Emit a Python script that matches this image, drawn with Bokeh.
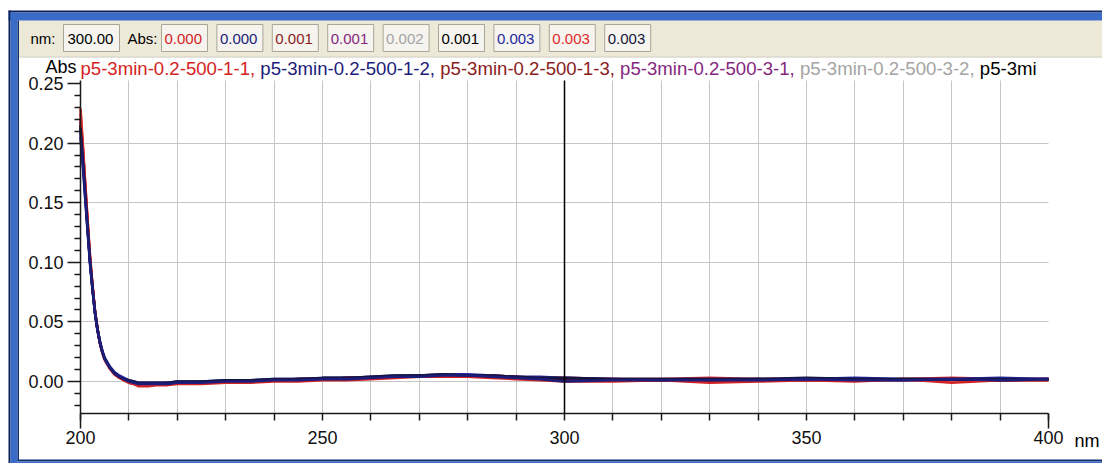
from bokeh.plotting import figure
from bokeh.models import Range1d, FixedTicker, PrintfTickFormatter, Label, BoxAnnotation
from bokeh.embed import file_html
from bokeh.resources import INLINE

# ---------------- data ----------------
wavelength = [200, 200.5, 201, 201.5, 202, 202.5, 203, 203.5, 204, 204.5,
              205, 206, 207, 208, 209, 210, 211, 212,
              214, 216, 218, 220,
              225, 230, 235, 240, 245, 250, 255, 260, 265, 270, 275, 280, 285, 290, 295, 300,
              310, 320, 330, 340, 350, 360, 370, 380, 390, 400]

s1 = [0.229, 0.198, 0.165, 0.133, 0.103, 0.080, 0.059, 0.044, 0.032, 0.024, 0.018, 0.011, 0.006, 0.003, 0.001, -0.001, -0.002, -0.004,
      -0.004, -0.003, -0.003, -0.002, -0.002, -0.001, -0.001, 0.000, 0.000, 0.001, 0.001, 0.002, 0.003, 0.004, 0.004, 0.004, 0.003, 0.002, 0.001, 0.000,
      0.000, 0.001, -0.001, 0.000, 0.001, 0.000, 0.002, -0.001, 0.001, 0.001]
s2 = [0.205, 0.180, 0.152, 0.124, 0.097, 0.076, 0.057, 0.043, 0.033, 0.025, 0.019, 0.012, 0.007, 0.004, 0.002, 0.000, -0.001, -0.002,
      -0.002, -0.002, -0.002, -0.001, -0.001, 0.000, 0.000, 0.001, 0.001, 0.002, 0.002, 0.003, 0.004, 0.004, 0.005, 0.005, 0.004, 0.003, 0.002, 0.000,
      0.001, 0.001, 0.001, 0.001, 0.002, 0.001, 0.001, 0.002, 0.001, 0.002]
s3 = [0.221, 0.192, 0.161, 0.130, 0.101, 0.079, 0.058, 0.044, 0.033, 0.025, 0.019, 0.012, 0.007, 0.004, 0.001, -0.001, -0.002, -0.003,
      -0.003, -0.002, -0.002, -0.001, -0.001, 0.000, 0.000, 0.001, 0.001, 0.002, 0.003, 0.003, 0.004, 0.005, 0.005, 0.005, 0.004, 0.003, 0.002, 0.001,
      0.001, 0.001, 0.000, 0.001, 0.001, 0.001, 0.001, 0.002, 0.001, 0.001]
s4 = [0.218, 0.190, 0.159, 0.129, 0.100, 0.078, 0.058, 0.044, 0.033, 0.025, 0.019, 0.012, 0.007, 0.004, 0.002, 0.000, -0.001, -0.002,
      -0.002, -0.002, -0.001, -0.001, -0.001, 0.000, 0.001, 0.001, 0.002, 0.002, 0.003, 0.003, 0.004, 0.005, 0.005, 0.005, 0.005, 0.004, 0.002, 0.001,
      0.001, 0.001, 0.001, 0.002, 0.001, 0.002, 0.001, 0.001, 0.002, 0.002]
s5 = [0.212, 0.186, 0.156, 0.127, 0.099, 0.077, 0.058, 0.044, 0.033, 0.025, 0.019, 0.012, 0.007, 0.004, 0.002, 0.000, -0.001, -0.001,
      -0.002, -0.001, -0.001, -0.001, 0.000, 0.000, 0.001, 0.001, 0.002, 0.002, 0.003, 0.004, 0.004, 0.005, 0.006, 0.005, 0.005, 0.004, 0.003, 0.002,
      0.002, 0.001, 0.002, 0.002, 0.001, 0.002, 0.002, 0.002, 0.001, 0.002]
s6 = [0.215, 0.188, 0.158, 0.128, 0.100, 0.078, 0.058, 0.044, 0.033, 0.025, 0.019, 0.012, 0.007, 0.004, 0.002, 0.000, -0.001, -0.002,
      -0.002, -0.002, -0.002, -0.001, -0.001, 0.000, 0.000, 0.001, 0.002, 0.002, 0.003, 0.003, 0.004, 0.005, 0.005, 0.005, 0.004, 0.003, 0.002, 0.001,
      0.002, 0.001, 0.001, 0.002, 0.002, 0.001, 0.002, 0.002, 0.001, 0.002]
s7 = [0.209, 0.183, 0.154, 0.126, 0.099, 0.077, 0.058, 0.044, 0.034, 0.026, 0.020, 0.013, 0.008, 0.005, 0.003, 0.001, 0.000, -0.001,
      -0.001, -0.001, -0.001, 0.000, 0.000, 0.001, 0.001, 0.002, 0.002, 0.003, 0.003, 0.004, 0.005, 0.005, 0.006, 0.006, 0.005, 0.004, 0.004, 0.003,
      0.002, 0.002, 0.002, 0.002, 0.002, 0.003, 0.002, 0.002, 0.003, 0.002]
s8 = [0.225, 0.195, 0.163, 0.132, 0.102, 0.079, 0.059, 0.045, 0.033, 0.025, 0.019, 0.012, 0.007, 0.004, 0.002, 0.000, -0.001, -0.002,
      -0.003, -0.002, -0.002, -0.001, -0.001, 0.000, 0.000, 0.001, 0.002, 0.002, 0.003, 0.003, 0.004, 0.005, 0.005, 0.005, 0.005, 0.004, 0.003, 0.003,
      0.002, 0.002, 0.003, 0.002, 0.002, 0.001, 0.002, 0.003, 0.002, 0.002]
s9 = [0.213, 0.186, 0.157, 0.127, 0.099, 0.078, 0.058, 0.044, 0.033, 0.025, 0.019, 0.012, 0.007, 0.004, 0.002, 0.001, 0.000, -0.001,
      -0.001, -0.001, -0.001, 0.000, 0.000, 0.001, 0.001, 0.002, 0.002, 0.003, 0.003, 0.004, 0.005, 0.005, 0.006, 0.005, 0.005, 0.004, 0.003, 0.003,
      0.002, 0.002, 0.002, 0.002, 0.003, 0.002, 0.002, 0.002, 0.002, 0.002]

series_values = [s1, s2, s3, s4, s5, s6, s7, s8, s9]
series_names = ["p5-3min-0.2-500-1-1", "p5-3min-0.2-500-1-2", "p5-3min-0.2-500-1-3",
                "p5-3min-0.2-500-3-1", "p5-3min-0.2-500-3-2", "p5-3min-0.2-500-3-3",
                "p5-3min-0.2-500-5-1", "p5-3min-0.2-500-5-2", "p5-3min-0.2-500-5-3"]
series_colors = ["#d42222", "#1c1c7a", "#8a1c1c", "#86267e", "#a4a4a4", "#000000",
                 "#26289e", "#e02a2a", "#14143c"]
draw_order = [4, 3, 2, 5, 0, 7, 6, 8, 1]

cursor_nm = 300
x_min, x_max = 200, 400
y_top = 0.25
x_ticks = list(range(200, 401, 10))
x_labels = [200, 250, 300, 350, 400]
y_ticks = [0.0, 0.05, 0.10, 0.15, 0.20, 0.25]
y_minor = [-0.02, -0.01, 0.01, 0.02, 0.03, 0.04, 0.06, 0.07, 0.08, 0.09, 0.11, 0.12, 0.13, 0.14,
           0.16, 0.17, 0.18, 0.19, 0.21, 0.22, 0.23, 0.24]

# ---------------- layout helpers (pixel -> data, for decorations) ----------------
FONT = "Liberation Sans"
W, H = 1102, 463
PL, PR, PT, PB = 80, 1048, 80, 413      # plot-area edges in px
Y0PX, Y25PX = 381, 83                   # pixel rows of 0.00 and 0.25
END_TICK_PX = 428                       # lower end of the long end ticks


def dx(px):
    return x_min + (px - PL) * float(x_max - x_min) / (PR - PL)


def dy(py):
    return (Y0PX - py) * y_top / (Y0PX - Y25PX)


y_bottom = dy(PB)

p = figure(width=W, height=H, output_backend="svg", toolbar_location=None,
           x_range=Range1d(dx(0), dx(W)), y_range=Range1d(dy(H), dy(0)),
           min_border=0, min_border_left=0, min_border_right=0, min_border_top=0, min_border_bottom=0,
           background_fill_color="white", border_fill_color="white")
p.outline_line_color = None

# grid
p.xgrid.ticker = FixedTicker(ticks=[t for t in x_ticks if x_min < t < x_max])
p.xgrid.grid_line_color = "#c6c6c6"
p.xgrid.grid_line_width = 1
p.ygrid.ticker = FixedTicker(ticks=[t for t in y_ticks if t < y_top])
p.ygrid.grid_line_color = "#c6c6c6"
p.ygrid.grid_line_width = 1

AX = "#1a1a1a"

# x axis (drawn at the bottom of the plot area)
xa = p.xaxis[0]
xa.fixed_location = y_bottom
xa.bounds = (x_min, x_max)
xa.ticker = FixedTicker(ticks=x_ticks)
xa.major_label_overrides = {t: (str(t) if t in x_labels else "") for t in x_ticks}
xa.major_tick_out = 7
xa.major_tick_in = 0
xa.minor_tick_out = 0
xa.axis_line_color = AX
xa.axis_line_width = 1.5
xa.major_tick_line_color = AX
xa.major_tick_line_width = 1.5
xa.major_label_text_font = FONT
xa.major_label_text_font_size = "18px"
xa.major_label_text_color = "#111111"
xa.major_label_standoff = 10

# y axis (its line runs down past the x axis, like the long end tick at 200)
ya = p.yaxis[0]
ya.fixed_location = x_min
ya.bounds = (dy(END_TICK_PX), dy(PT))
ya.ticker = FixedTicker(ticks=y_ticks, minor_ticks=y_minor)
ya.formatter = PrintfTickFormatter(format="%.2f")
ya.major_tick_out = 13
ya.major_tick_in = 0
ya.minor_tick_out = 6
ya.minor_tick_in = 0
ya.axis_line_color = AX
ya.axis_line_width = 1.5
ya.major_tick_line_color = AX
ya.major_tick_line_width = 1.5
ya.minor_tick_line_color = AX
ya.minor_tick_line_width = 1.5
ya.major_label_text_font = FONT
ya.major_label_text_font_size = "18px"
ya.major_label_text_color = "#111111"
ya.major_label_standoff = 4


# ---------------- covers + window chrome (underlay, above the grid) ----------------
def box(x0, y0, x1, y1, fill, line=None, level="underlay"):
    p.add_layout(BoxAnnotation(left=dx(x0), right=dx(x1), top=dy(y0), bottom=dy(y1),
                               fill_color=fill, fill_alpha=1.0,
                               line_color=line if line else "white", line_alpha=1.0 if line else 0.0,
                               line_width=1, level=level))

# white covers outside the plot area (hide grid lines there)
box(-5, -5, W + 5, PT, "white")
box(-5, PB, W + 5, H + 5, "white")
box(-5, -5, PL, H + 5, "white")
box(PR, -5, W + 5, H + 5, "white")

# window frame and toolbar
box(18, 20, W + 5, 56, "#ece9d8")
box(18, 56, W + 5, 57, "#c9c6b6")
box(8, 10, W + 5, 12, "#0c2156")
box(8, 12, W + 5, 20, "#3a6bc6")
box(8, 10, 10, H + 5, "#0c2156")
box(10, 12, 17, H + 5, "#3a6bc6")
box(17, 20, 18.5, 460, "#13306e")
box(17, 459, W + 5, 461, "#13306e")
box(17, 461, W + 5, H + 5, "#3a6bc6")

# curves
for i in draw_order:
    p.line(wavelength, series_values[i], line_color=series_colors[i], line_width=2.6)

# cursor line at the read-out wavelength
p.segment(x0=[cursor_nm], y0=[y_bottom], x1=[cursor_nm], y1=[dy(PT)], line_color="black", line_width=1.5)
# long end tick at the right end of the x axis
p.segment(x0=[x_max], y0=[y_bottom], x1=[x_max], y1=[dy(END_TICK_PX)], line_color=AX, line_width=1.5)


def label(px, py, text, color="black", size="15px", align="left"):
    p.add_layout(Label(x=dx(px), y=dy(py), text=text, text_color=color, text_font=FONT,
                       text_font_size=size, text_align=align, text_baseline="middle",
                       level="overlay"))

# toolbar: cursor read-out
label(30, 38, "nm:")
box(63, 24, 119, 51, "#f5f4ef", "#a9a696", level="annotation")
label(67, 38, "%.2f" % cursor_nm)
label(127, 38, "Abs:")
idx = wavelength.index(cursor_nm)
for k in range(len(series_values)):
    bx = 161 + 55.4 * k
    box(bx, 24, bx + 46, 51, "#f5f4ef", "#a9a696", level="annotation")
    label(bx + 3, 38, "%.3f" % series_values[k][idx], color=series_colors[k])

# legend line with series names (cut at the plot's right edge)
ARIAL = {"-": 333, ".": 278, ",": 278, " ": 278, "p": 556, "m": 833, "i": 222, "n": 556}
LEG_FS = 18.6


def text_w(s):
    return sum(ARIAL.get(c, 556) for c in s) * LEG_FS / 1000.0

label(45, 66, "Abs", size="18px")
x = 80.0
limit = 1040.0
for k, name in enumerate(series_names):
    seg = name + ", "
    vis = ""
    for c in seg:
        if x + text_w(vis + c) > limit:
            break
        vis += c
    if vis.strip():
        label(x, 68, vis.rstrip(), color=series_colors[k], size="%.1fpx" % LEG_FS)
    x += text_w(seg)
    if x > limit:
        break

label(1074, 440, "nm", size="18px")

open("out.html", "w").write(file_html(p, INLINE))
